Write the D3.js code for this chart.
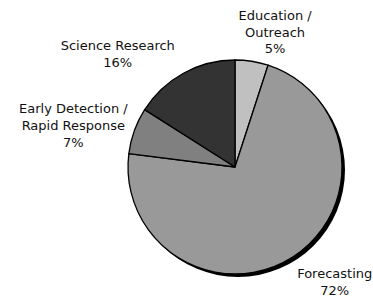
<!DOCTYPE html>
<html><head><meta charset="utf-8">
<script src="https://cdn.jsdelivr.net/npm/d3@7"></script>
<style>body{margin:0;background:#fff}svg{display:block}</style>
</head><body>
<script>
const categories = ["Education / Outreach", "Forecasting", "Early Detection / Rapid Response", "Science Research"];
const labelLines = [["Education /", "Outreach"], ["Forecasting"], ["Early Detection /", "Rapid Response"], ["Science Research"]];
const values = [5, 72, 7, 16];
const colors = ["#c0c0c0", "#999999", "#808080", "#333333"];

const W = 373, H = 297, cx = 235, cy = 167, r = 107;
const svg = d3.select("body").append("svg").attr("width", W).attr("height", H);
const g = svg.append("g").attr("transform", `translate(${cx},${cy})`);

const pie = d3.pie().sort(null).value(d => d);
const arcs = pie(values);
const arc = d3.arc().innerRadius(0).outerRadius(r);

// shadow
g.append("circle").attr("cx", 3).attr("cy", 3).attr("r", r).attr("fill", "#000");

g.selectAll("path.slice").data(arcs).enter().append("path")
  .attr("class", "slice")
  .attr("d", arc)
  .attr("fill", (d, i) => colors[i])
  .attr("stroke", "#000").attr("stroke-width", 1.3).attr("stroke-linejoin", "round");

// label placement: radius and angle (layout only)
const labelPos = [
  {rad: 141, ang: 16.5},
  {rad: 152, ang: 139},
  {rad: 167, ang: 284.5},
  {rad: 163, ang: 314}
];
const lh = 16.7;
arcs.forEach((a, i) => {
  const lines = labelLines[i].concat([Math.round(values[i] / d3.sum(values) * 100) + "%"]);
  const ang = labelPos[i].ang * Math.PI / 180;
  const x = Math.sin(ang) * labelPos[i].rad;
  const y = -Math.cos(ang) * labelPos[i].rad;
  const t = g.append("text")
    .attr("text-anchor", "middle")
    .attr("font-family", "DejaVu Sans, Verdana, sans-serif")
    .attr("font-size", 13)
    .attr("fill", "#111");
  const y0 = y - (lines.length - 1) * lh / 2 + 4.7;
  lines.forEach((s, k) => {
    t.append("tspan").attr("x", x).attr("y", y0 + k * lh).text(s);
  });
});
</script>
</body></html>
